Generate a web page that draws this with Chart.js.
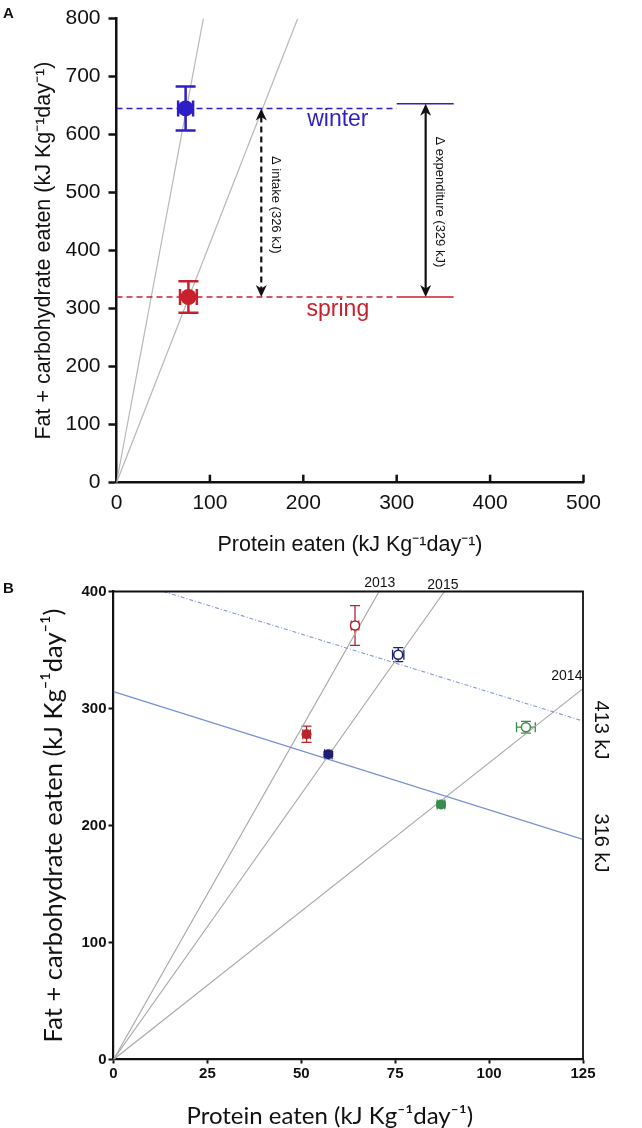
<!DOCTYPE html>
<html>
<head>
<meta charset="utf-8">
<script src="https://cdn.jsdelivr.net/npm/chart.js@4.4.0/dist/chart.umd.min.js"></script>
<style>
  html, body { margin: 0; padding: 0; background: #fff; }
  #wrapA { position: absolute; left: 0; top: 0; width: 642px; height: 564px; }
  #wrapB { position: absolute; left: 0; top: 564px; width: 642px; height: 564px; }
</style>
</head>
<body>
<div id="wrapA"><canvas id="chartA"></canvas></div>
<div id="wrapB"><canvas id="chartB"></canvas></div>
<script>
// ---------- panel A ----------
var seasons = ['winter', 'spring'];
var seasonColors = ['#2d1ec8', '#c8202c'];
var proteinA = [74, 77];
var fatCarbA = [645, 320];
var proteinErrA = [8, 9];
var fatCarbErrA = [38, 27];
var rayA = [[{x: 0, y: 0}, {x: 93, y: 800}], [{x: 0, y: 0}, {x: 194, y: 800}]];
var winterDashed = [{x: 0, y: 645}, {x: 300, y: 645}];
var winterSolid = [{x: 300, y: 653}, {x: 361, y: 653}];
var springDashed = [{x: 0, y: 320}, {x: 300, y: 320}];
var springSolid = [{x: 300, y: 320}, {x: 361, y: 320}];
var intakeArrow = {x: 155, low: 320, high: 645, text: '\u0394 intake (326 kJ)'};
var expendArrow = {x: 331, low: 320, high: 653, text: '\u0394 expenditure (329 kJ)'};

// ---------- panel B ----------
var years = ['2013', '2014', '2015'];
var yearColors = ['#b5262c', '#3a8a4c', '#1e1e72'];
var proteinSpring = [51.4, 87.2, 57.2];
var fatCarbSpring = [278, 218, 261];
var proteinSpringErr = [1, 1, 1];
var fatCarbSpringErr = [7, 2, 2];
var proteinWinter = [64.3, 109.8, 75.8];
var fatCarbWinter = [371, 284, 346];
var proteinWinterErr = [1, 2.5, 1.5];
var fatCarbWinterErr = [17, 5, 6];
var rayEndB = [{x: 70.7, y: 400}, {x: 125, y: 317}, {x: 88.1, y: 400}];
var iso316 = [{x: 0, y: 314.4}, {x: 125, y: 188.2}];
var iso413 = [{x: 13.3, y: 400}, {x: 125, y: 289.3}];

var sansFont = 'Liberation Sans';
var axisTitle = 'Protein eaten (kJ Kg\u207B\u00B9day\u207B\u00B9)';
var yTitle = 'Fat + carbohydrate eaten (kJ Kg\u207B\u00B9day\u207B\u00B9)';

function fixWidth(w) { return function(s) { s.width = w; }; }
function fixHeight(h) { return function(s) { s.height = h; }; }

function lineSet(pts, color, width, dash) {
  return {data: pts, showLine: true, pointRadius: 0, borderColor: color, borderWidth: width,
    borderDash: dash || [], fill: false};
}

function errorBar(ctx, xs, ys, x, y, ex, ey, capY, capX) {
  var px = xs.getPixelForValue(x), py = ys.getPixelForValue(y);
  var top = ys.getPixelForValue(y + ey), bot = ys.getPixelForValue(y - ey);
  var lft = xs.getPixelForValue(x - ex), rgt = xs.getPixelForValue(x + ex);
  ctx.beginPath();
  ctx.moveTo(px, top); ctx.lineTo(px, bot);
  ctx.moveTo(px - capY, top); ctx.lineTo(px + capY, top);
  ctx.moveTo(px - capY, bot); ctx.lineTo(px + capY, bot);
  ctx.moveTo(lft, py); ctx.lineTo(rgt, py);
  ctx.moveTo(lft, py - capX); ctx.lineTo(lft, py + capX);
  ctx.moveTo(rgt, py - capX); ctx.lineTo(rgt, py + capX);
  ctx.stroke();
}

function arrowHead(ctx, x, y, dir) {
  var L = 12, W = 5.5, N = 3.5;
  ctx.beginPath();
  ctx.moveTo(x, y);
  ctx.lineTo(x - W, y - dir * L);
  ctx.lineTo(x, y - dir * (L - N));
  ctx.lineTo(x + W, y - dir * L);
  ctx.closePath();
  ctx.fill();
}

function doubleArrow(ctx, xs, ys, a, dashed) {
  var x = xs.getPixelForValue(a.x);
  var yTop = ys.getPixelForValue(a.high), yBot = ys.getPixelForValue(a.low);
  ctx.strokeStyle = '#111'; ctx.fillStyle = '#111'; ctx.lineWidth = 2.2;
  ctx.setLineDash(dashed ? [6, 4] : []);
  ctx.beginPath(); ctx.moveTo(x, yTop + 8); ctx.lineTo(x, yBot - 8); ctx.stroke();
  ctx.setLineDash([]);
  arrowHead(ctx, x, yTop, -1);
  arrowHead(ctx, x, yBot, 1);
}

function vText(ctx, text, x, y, font, color) {
  ctx.save();
  ctx.translate(x, y);
  ctx.rotate(Math.PI / 2);
  ctx.font = font; ctx.fillStyle = color;
  ctx.textAlign = 'center'; ctx.textBaseline = 'middle';
  ctx.fillText(text, 0, 0);
  ctx.restore();
}

var overlayA = {
  id: 'overlayA',
  afterDatasetsDraw: function(chart) {
    var ctx = chart.ctx, xs = chart.scales.x, ys = chart.scales.y, area = chart.chartArea;
    ctx.save();
    // x ticks point inwards on this panel
    ctx.strokeStyle = '#111'; ctx.lineWidth = 2.5;
    xs.ticks.forEach(function(t) {
      if (t.value === 0) return;
      var px = xs.getPixelForValue(t.value);
      ctx.beginPath(); ctx.moveTo(px, area.bottom); ctx.lineTo(px, area.bottom - 8); ctx.stroke();
    });
    seasons.forEach(function(s, i) {
      ctx.strokeStyle = seasonColors[i];
      ctx.lineWidth = 2.5;
      errorBar(ctx, xs, ys, proteinA[i], fatCarbA[i], proteinErrA[i], fatCarbErrA[i], 10, 8);
    });
    doubleArrow(ctx, xs, ys, intakeArrow, true);
    doubleArrow(ctx, xs, ys, expendArrow, false);

    ctx.font = '23px "' + sansFont + '"';
    ctx.textAlign = 'center'; ctx.textBaseline = 'alphabetic';
    ctx.fillStyle = seasonColors[0];
    ctx.fillText(seasons[0], xs.getPixelForValue(237), ys.getPixelForValue(615));
    ctx.fillStyle = seasonColors[1];
    ctx.fillText(seasons[1], xs.getPixelForValue(237), ys.getPixelForValue(287));

    var f13 = '13px "' + sansFont + '"';
    vText(ctx, intakeArrow.text, xs.getPixelForValue(170), ys.getPixelForValue(479), f13, '#111');
    vText(ctx, expendArrow.text, xs.getPixelForValue(346), ys.getPixelForValue(484), f13, '#111');

    ctx.font = 'bold 15px "' + sansFont + '"';
    ctx.fillStyle = '#111'; ctx.textAlign = 'left';
    ctx.fillText('A', 3, 18);
    ctx.restore();
  }
};

new Chart(document.getElementById('chartA'), {
  type: 'scatter',
  data: {
    datasets: [
      {
        data: seasons.map(function(s, i) { return {x: proteinA[i], y: fatCarbA[i]}; }),
        pointRadius: 8, pointBackgroundColor: seasonColors, pointBorderWidth: 0
      },
      lineSet(winterDashed, seasonColors[0], 1.6, [6, 4]),
      lineSet(winterSolid, seasonColors[0], 1.6),
      lineSet(springDashed, seasonColors[1], 1.6, [6, 4]),
      lineSet(springSolid, seasonColors[1], 1.6),
      lineSet(rayA[0], '#b8b8b8', 1.2),
      lineSet(rayA[1], '#b8b8b8', 1.2)
    ]
  },
  options: {
    responsive: true, maintainAspectRatio: false, animation: false,
    layout: {padding: {top: 11, right: 58.5, bottom: 0, left: 0}},
    plugins: {legend: {display: false}, tooltip: {enabled: false}},
    scales: {
      x: {
        type: 'linear', min: 0, max: 500,
        ticks: {stepSize: 100, color: '#111', padding: 8, maxRotation: 0,
          font: {family: sansFont, size: 21, lineHeight: 1.2}},
        grid: {display: true, drawOnChartArea: false, drawTicks: false},
        border: {color: '#111', width: 2.5},
        title: {display: true, text: axisTitle, color: '#111',
          font: {family: sansFont, size: 21.5, lineHeight: 1.2}, padding: {top: 0, bottom: 6.4}},
        afterFit: fixHeight(81.3)
      },
      y: {
        type: 'linear', min: 0, max: 800,
        ticks: {stepSize: 100, color: '#111', padding: 8,
          font: {family: sansFont, size: 21, lineHeight: 1}},
        grid: {display: true, drawOnChartArea: false, drawTicks: true, tickLength: 8,
          tickColor: '#111', tickWidth: 2.5},
        border: {color: '#111', width: 2.5},
        title: {display: true, text: yTitle, color: '#111',
          font: {family: sansFont, size: 21.5, lineHeight: 1}, padding: {top: 33, bottom: 0}},
        afterFit: fixWidth(116.5)
      }
    }
  },
  plugins: [overlayA]
});

var underlayB = {
  id: 'underlayB',
  beforeDatasetsDraw: function(chart) {
    var ctx = chart.ctx, xs = chart.scales.x, ys = chart.scales.y;
    ctx.save();
    ctx.lineWidth = 1.3;
    years.forEach(function(yr, i) {
      ctx.strokeStyle = yearColors[i];
      errorBar(ctx, xs, ys, proteinSpring[i], fatCarbSpring[i], proteinSpringErr[i], fatCarbSpringErr[i], 5, 5);
      errorBar(ctx, xs, ys, proteinWinter[i], fatCarbWinter[i], proteinWinterErr[i], fatCarbWinterErr[i], 5, 5);
    });
    ctx.restore();
  },
  afterDraw: function(chart) {
    var ctx = chart.ctx, xs = chart.scales.x, ys = chart.scales.y, area = chart.chartArea;
    ctx.save();
    ctx.strokeStyle = '#111'; ctx.lineWidth = 1.8;
    ctx.beginPath();
    ctx.moveTo(area.left, area.top); ctx.lineTo(area.right, area.top); ctx.lineTo(area.right, area.bottom);
    ctx.stroke();

    ctx.font = '14px "' + sansFont + '"';
    ctx.fillStyle = '#111'; ctx.textAlign = 'center'; ctx.textBaseline = 'middle';
    ctx.fillText(years[0], xs.getPixelForValue(70.9), ys.getPixelForValue(407));
    ctx.fillText(years[2], xs.getPixelForValue(87.7), ys.getPixelForValue(405.5));
    ctx.fillText(years[1], xs.getPixelForValue(120.7), ys.getPixelForValue(328));

    var f20 = '20px "' + sansFont + '"';
    vText(ctx, '413 kJ', xs.getPixelForValue(129.6), ys.getPixelForValue(281.6), f20, '#111');
    vText(ctx, '316 kJ', xs.getPixelForValue(129.6), ys.getPixelForValue(185), f20, '#111');

    ctx.font = 'bold 15px "' + sansFont + '"';
    ctx.textAlign = 'left'; ctx.textBaseline = 'alphabetic';
    ctx.fillText('B', 3, 29);
    ctx.restore();
  }
};

var titleFontB = 'Lato';
new Chart(document.getElementById('chartB'), {
  type: 'scatter',
  data: {
    datasets: [
      {
        data: years.map(function(y, i) { return {x: proteinSpring[i], y: fatCarbSpring[i]}; }),
        pointRadius: 5, pointBackgroundColor: yearColors, pointBorderWidth: 0
      },
      {
        data: years.map(function(y, i) { return {x: proteinWinter[i], y: fatCarbWinter[i]}; }),
        pointRadius: 4.5, pointBackgroundColor: '#fff', pointBorderColor: yearColors, pointBorderWidth: 1.5
      },
      lineSet(iso316, '#7890d4', 1.2),
      lineSet(iso413, '#8797d8', 1.1, [4, 2, 1, 2]),
      lineSet([{x: 0, y: 0}, rayEndB[0]], '#a8a8a8', 1.2),
      lineSet([{x: 0, y: 0}, rayEndB[1]], '#a8a8a8', 1.2),
      lineSet([{x: 0, y: 0}, rayEndB[2]], '#a8a8a8', 1.2)
    ]
  },
  options: {
    responsive: true, maintainAspectRatio: false, animation: false,
    layout: {padding: {top: 27.5, right: 59, bottom: 0, left: 0}},
    plugins: {legend: {display: false}, tooltip: {enabled: false}},
    scales: {
      x: {
        type: 'linear', min: 0, max: 125,
        ticks: {stepSize: 25, color: '#111', padding: 1, maxRotation: 0,
          font: {family: sansFont, size: 15, weight: 'bold', lineHeight: 1.2}},
        grid: {display: true, drawOnChartArea: false, drawTicks: true, tickLength: 4,
          tickColor: '#111', tickWidth: 2},
        border: {color: '#111', width: 2.2},
        title: {display: true, text: axisTitle + '      ', color: '#111',
          font: {family: titleFontB, size: 24, lineHeight: 1}, padding: {top: 0, bottom: 0}},
        afterFit: fixHeight(68.5)
      },
      y: {
        type: 'linear', min: 0, max: 400,
        ticks: {stepSize: 100, color: '#111', padding: 2,
          font: {family: sansFont, size: 15, weight: 'bold', lineHeight: 1}},
        grid: {display: true, drawOnChartArea: false, drawTicks: true, tickLength: 5,
          tickColor: '#111', tickWidth: 2},
        border: {color: '#111', width: 2.2},
        title: {display: true, text: yTitle, color: '#111',
          font: {family: titleFontB, size: 25.5, lineHeight: 1}, padding: {top: 41, bottom: 0}},
        afterFit: fixWidth(113.5)
      }
    }
  },
  plugins: [underlayB]
});
</script>
</body>
</html>
